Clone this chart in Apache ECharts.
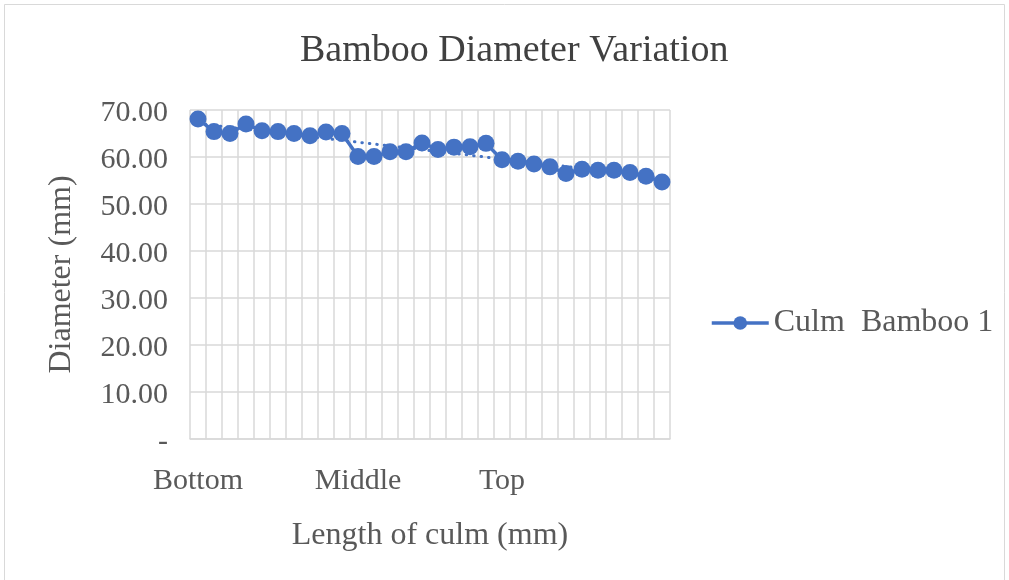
<!DOCTYPE html>
<html>
<head>
<meta charset="utf-8">
<title>Bamboo Diameter Variation</title>
<script src="https://cdn.jsdelivr.net/npm/echarts@6/dist/echarts.min.js"></script>
<style>
  html, body { margin: 0; padding: 0; background: #ffffff; }
  #chart { width: 1009px; height: 580px; }
</style>
</head>
<body>
<div id="chart"></div>
<script>
// Positions along the culm; only three stations carry a name
const positions = ['Bottom', '', '', '', '', '', '', '', '', '',
                   'Middle', '', '', '', '', '', '', '', '', 'Top',
                   '', '', '', '', '', '', '', '', '', ''];

// Measured diameters (mm) for Culm Bamboo 1
const diameters = [68.1, 65.4, 65.0, 67.0, 65.6, 65.4, 65.0, 64.5, 65.3, 65.0,
                   60.1, 60.1, 61.1, 61.1, 63.0, 61.6, 62.1, 62.2, 62.9, 59.4,
                   59.1, 58.5, 57.9, 56.5, 57.4, 57.2, 57.2, 56.7, 55.9, 54.7];

const seriesName = 'Culm  Bamboo 1';
const yTicks = { min: 0, max: 70, interval: 10 };

// Least-squares linear trend of the diameters
function linearTrend(values) {
  const n = values.length;
  let sx = 0, sy = 0, sxx = 0, sxy = 0;
  values.forEach((y, x) => { sx += x; sy += y; sxx += x * x; sxy += x * y; });
  const slope = (n * sxy - sx * sy) / (n * sxx - sx * sx);
  const intercept = (sy - slope * sx) / n;
  return values.map((_, x) => +(intercept + slope * x).toFixed(3));
}

const font = "'Liberation Serif', 'Times New Roman', serif";
const textColor = '#595959';
const blue = '#4472C4';
const gridColor = '#d9d9d9';

const chart = echarts.init(document.getElementById('chart'));
chart.setOption({
  animation: false,
  backgroundColor: '#ffffff',
  graphic: [{
    type: 'rect',
    shape: { x: 4.5, y: 4.5, width: 1000, height: 590 },
    style: { fill: 'none', stroke: gridColor, lineWidth: 1 },
    silent: true, z: -1
  }],
  title: {
    text: 'Bamboo Diameter Variation',
    left: 295,
    top: 27,
    textStyle: { fontFamily: font, fontSize: 38, fontWeight: 'normal', color: '#404040' }
  },
  legend: {
    data: [seriesName],
    left: 705,
    top: 302,
    orient: 'vertical',
    itemWidth: 57,
    itemHeight: 17,
    itemGap: 10,
    lineStyle: { width: 3.5 },
    textStyle: { fontFamily: font, fontSize: 32, color: textColor }
  },
  grid: { left: 190, right: 339, top: 110, bottom: 141, containLabel: false },
  xAxis: {
    type: 'category',
    data: positions,
    boundaryGap: true,
    name: 'Length of culm (mm)',
    nameLocation: 'middle',
    nameGap: 81,
    nameTextStyle: { fontFamily: font, fontSize: 32, color: textColor },
    axisLine: { show: true, lineStyle: { color: gridColor, width: 1.5 } },
    axisTick: { show: false },
    axisLabel: { interval: 0, margin: 27, fontFamily: font, fontSize: 30, color: textColor },
    splitLine: { show: true, interval: 0, lineStyle: { color: gridColor, width: 1.5 } }
  },
  yAxis: {
    type: 'value',
    min: yTicks.min,
    max: yTicks.max,
    interval: yTicks.interval,
    name: 'Diameter (mm)',
    nameLocation: 'middle',
    nameGap: 112,
    nameTextStyle: { fontFamily: font, fontSize: 32, color: textColor },
    axisLine: { show: false },
    axisTick: { show: false },
    axisLabel: {
      margin: 22,
      fontFamily: font, fontSize: 30, color: textColor,
      formatter: v => '{t|' + (v === 0 ? '-' : v.toFixed(2)) + '}',
      rich: { t: { fontFamily: font, fontSize: 30, color: textColor, padding: [7, 0, 0, 0] } }
    },
    splitLine: { show: true, lineStyle: { color: gridColor, width: 1.5 } }
  },
  series: [
    {
      name: 'Linear trend',
      type: 'line',
      data: linearTrend(diameters),
      symbol: 'none',
      silent: true,
      lineStyle: { color: blue, width: 3, type: [0.5, 7], cap: 'round' },
      z: 1
    },
    {
      name: seriesName,
      type: 'line',
      data: diameters,
      symbol: 'circle',
      symbolSize: 17,
      itemStyle: { color: blue },
      lineStyle: { color: blue, width: 3.5 },
      z: 2
    }
  ]
});
</script>
</body>
</html>
